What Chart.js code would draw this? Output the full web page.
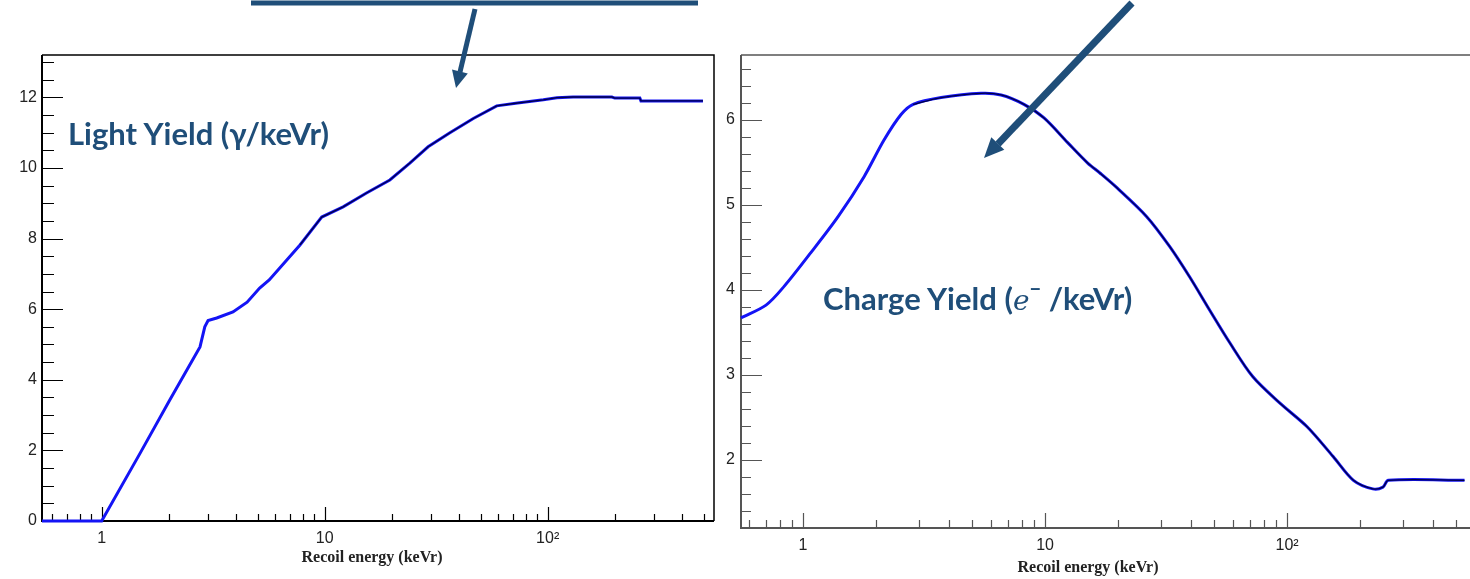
<!DOCTYPE html>
<html>
<head>
<meta charset="utf-8">
<script src="https://cdn.jsdelivr.net/npm/chart.js@4.4.0/dist/chart.umd.min.js"></script>
<style>
html, body { margin: 0; padding: 0; background: #fff; overflow: hidden; }
body { width: 1470px; height: 579px; position: relative; }
#wrapLight { position: absolute; left: 0; top: 0; width: 720px; height: 579px; }
#wrapCharge { position: absolute; left: 720px; top: 0; width: 752px; height: 579px; }
.note { position: absolute; font-family: Lato, 'Open Sans', sans-serif; font-weight: bold; color: #1f4e79; font-size: 31px; line-height: 36px; white-space: nowrap; }
.note .m { font-family: 'DejaVu Serif', serif; font-style: italic; font-weight: normal; font-size: 28px; }
.note sup { font-size: 20px; line-height: 0; position: relative; top: -3px; }
.xtitle { position: absolute; font-family: 'Liberation Serif', serif; font-weight: bold; font-size: 16px; line-height: 18px; color: #222; white-space: nowrap; transform: translateX(-50%); }
svg { position: absolute; left: 0; top: 0; }
</style>
</head>
<body>
<div id="wrapLight"><canvas id="lightChart"></canvas></div>
<div id="wrapCharge"><canvas id="chargeChart"></canvas></div>

<div class="note" style="left:68px; top:115px;">Light Yield (γ/keVr)</div>
<div class="note" style="left:823px; top:280px;">Charge Yield (<span class="m">e</span><sup>−</sup> /keVr)</div>
<div class="xtitle" style="left:372px; top:548px;">Recoil energy (keVr)</div>
<div class="xtitle" style="left:1088px; top:558px;">Recoil energy (keVr)</div>

<svg width="1470" height="579">
  <line x1="251" y1="3" x2="698" y2="3" stroke="#1f4e79" stroke-width="5"/>
  <line x1="475" y1="9" x2="460" y2="72" stroke="#1f4e79" stroke-width="5"/>
  <polygon points="452,69.6 467.8,73.4 456,88" fill="#1f4e79"/>
  <line x1="1132" y1="3" x2="998" y2="144" stroke="#1f4e79" stroke-width="7"/>
  <polygon points="1004.3,149.7 991.3,137.3 984,158" fill="#1f4e79"/>
</svg>

<script>
// light yield (photons/keVr) vs recoil energy
const lightE = [0.54, 1.0, 1.49, 2.02, 2.41, 2.76, 2.90, 3.0, 3.28, 3.88, 4.49, 5.11, 5.64, 7.75,
  9.7, 12.1, 15.4, 19.6, 24.1, 29.1, 36.3, 46.4, 59.1, 73.3, 95.6, 110, 130, 194, 200, 259, 262, 497];
const lightY = [0, 0, 1.93, 3.43, 4.28, 4.93, 5.5, 5.68, 5.75, 5.92, 6.2, 6.6, 6.83, 7.82,
  8.61, 8.9, 9.29, 9.66, 10.14, 10.6, 10.99, 11.4, 11.76, 11.84, 11.93, 11.99, 12.01, 12.01, 11.98, 11.98, 11.9, 11.9];

// charge yield (electrons/keVr) vs recoil energy
const chargeE = [0.554, 0.703, 0.835, 1.079, 1.395, 1.787, 2.16, 2.54, 2.85, 3.72, 5.44, 6.58, 8.18,
  9.9, 12.4, 15.0, 16.9, 19.8, 26.3, 32.7, 39.6, 47.9, 57.9, 72.1, 93.2, 121, 155, 188, 226, 249, 262, 541];
const chargeY = [3.67, 3.82, 4.04, 4.44, 4.86, 5.33, 5.76, 6.06, 6.18, 6.26, 6.31, 6.29, 6.18,
  6.02, 5.73, 5.49, 5.37, 5.2, 4.86, 4.51, 4.15, 3.76, 3.38, 2.98, 2.67, 2.39, 2.04, 1.76, 1.66, 1.68, 1.76, 1.76];

const xMajorTicks = [1, 10, 100];
const xMajorLabels = ['1', '10', '10²'];
const lightYTicks = [0, 2, 4, 6, 8, 10, 12];
const chargeYTicks = [2, 3, 4, 5, 6];

function pts(xs, ys, from) {
  const out = [];
  xs.forEach((x, i) => { if (x >= (from || 0)) out.push({x: x, y: ys[i]}); });
  return out;
}

// ROOT style frame: ticks pointing into the plot, box around it
const rootAxes = {
  id: 'rootAxes',
  beforeDatasetsDraw(chart, args, o) {
    const ctx = chart.ctx, a = chart.chartArea;
    const xs = chart.scales.x, ys = chart.scales.y;
    ctx.save();
    ctx.strokeStyle = o.color;
    ctx.lineWidth = o.tickWidth;
    ctx.beginPath();
    // y ticks
    const start = Math.ceil(ys.min / o.yMinor - 1e-6) * o.yMinor;
    for (let v = start; v <= ys.max + 1e-6; v += o.yMinor) {
      const r = v / o.yMajor;
      const len = Math.abs(r - Math.round(r)) < 1e-6 ? o.yMajorLen : o.yMinorLen;
      const py = Math.round(ys.getPixelForValue(v)) + 0.5;
      ctx.moveTo(a.left, py);
      ctx.lineTo(a.left + len, py);
    }
    // x ticks (log)
    for (let d = Math.pow(10, Math.floor(Math.log10(xs.min))); d <= xs.max; d *= 10) {
      for (let k = 1; k <= 9; k++) {
        const v = k * d;
        if (v < xs.min || v > xs.max) continue;
        const px = Math.round(xs.getPixelForValue(v)) + 0.5;
        ctx.moveTo(px, a.bottom);
        ctx.lineTo(px, a.bottom - (k === 1 ? o.xMajorLen : o.xMinorLen));
      }
    }
    ctx.stroke();
    // axes
    ctx.lineWidth = o.axisWidth;
    ctx.beginPath();
    ctx.moveTo(a.left, a.top);
    ctx.lineTo(a.left, a.bottom);
    ctx.lineTo(a.right, a.bottom);
    ctx.stroke();
    // top / right of the box
    ctx.lineWidth = o.frameWidth;
    ctx.beginPath();
    ctx.moveTo(a.left, a.top);
    ctx.lineTo(a.right, a.top);
    if (o.rightBorder) ctx.lineTo(a.right, a.bottom);
    ctx.stroke();
    ctx.restore();
  }
};

const tickFont = {family: "'Liberation Sans', Arial, sans-serif", size: 16};

function xScale(min, max, h) {
  return {
    type: 'logarithmic', min: min, max: max,
    afterFit(s) { s.height = h; },
    afterBuildTicks(s) { s.ticks = xMajorTicks.map(v => ({value: v})); },
    grid: {display: false, drawTicks: false},
    border: {display: false},
    ticks: {
      autoSkip: false, maxRotation: 0, padding: 8, color: '#222', font: tickFont,
      callback: (v, i) => xMajorLabels[i]
    }
  };
}

function yScale(min, max, w, list, pad) {
  return {
    min: min, max: max,
    afterFit(s) { s.width = w; },
    afterBuildTicks(s) { s.ticks = list.map(v => ({value: v})); },
    grid: {display: false, drawTicks: false},
    border: {display: false},
    ticks: {padding: pad, color: '#222', font: tickFont}
  };
}

Chart.register(rootAxes);

new Chart(document.getElementById('lightChart'), {
  type: 'line',
  data: {
    datasets: [{
      data: pts(lightE, lightY), order: 2,
      borderColor: '#1414f5', borderWidth: 3, pointRadius: 0, tension: 0, clip: false
    }, {
      data: pts(lightE, lightY, 7), order: 1,
      borderColor: '#000045', borderWidth: 1.3, pointRadius: 0, tension: 0, clip: false
    }]
  },
  options: {
    responsive: true, maintainAspectRatio: false, animation: false,
    layout: {padding: {top: 55, right: 6, left: 0, bottom: 0}},
    plugins: {
      legend: {display: false}, tooltip: {enabled: false},
      rootAxes: {color: '#000', tickWidth: 1.2, axisWidth: 2, frameWidth: 1.5, rightBorder: true,
        yMinor: 0.5, yMajor: 2, yMajorLen: 21, yMinorLen: 12, xMajorLen: 14, xMinorLen: 7}
    },
    scales: {
      x: xScale(0.54, 557, 58),
      y: yScale(0, 13.2, 42, lightYTicks, 5)
    }
  }
});

new Chart(document.getElementById('chargeChart'), {
  type: 'line',
  data: {
    datasets: [{
      data: pts(chargeE, chargeY), order: 2,
      borderColor: '#1414f5', borderWidth: 3, pointRadius: 0, tension: 0.3, clip: false
    }, {
      data: pts(chargeE, chargeY, 2.8), order: 1,
      borderColor: '#000045', borderWidth: 1.3, pointRadius: 0, tension: 0.3, clip: false
    }]
  },
  options: {
    responsive: true, maintainAspectRatio: false, animation: false,
    layout: {padding: {top: 55, right: 0, left: 0, bottom: 0}},
    plugins: {
      legend: {display: false}, tooltip: {enabled: false},
      rootAxes: {color: '#555', tickWidth: 1.2, axisWidth: 2, frameWidth: 1.5, rightBorder: false,
        yMinor: 0.2, yMajor: 1, yMajorLen: 21, yMinorLen: 10, xMajorLen: 15, xMinorLen: 8}
    },
    scales: {
      x: xScale(0.554, 581, 51),
      y: yScale(1.2, 6.76, 21, chargeYTicks, 6)
    }
  }
});
</script>
</body>
</html>
